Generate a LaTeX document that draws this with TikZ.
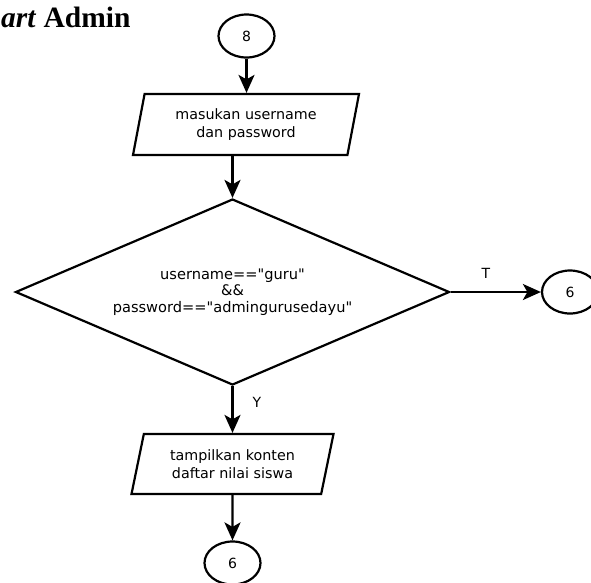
\documentclass[tikz,border=0pt]{standalone}
\usepackage{fontspec}
\newfontfamily\labfont{DejaVu Sans}
\newfontfamily\titlefont{Liberation Serif}
\usetikzlibrary{shapes.geometric,arrows.meta}
\begin{document}
\begin{tikzpicture}[x=1pt,y=-1pt,
  line width=2.2pt,
  conn/.style={-{Stealth[length=18pt,width=16pt,inset=4.5pt]}, line width=2.4pt},
  conncirc/.style={ellipse, draw, minimum width=56pt, minimum height=43pt, inner sep=0pt, font=\labfont\fontsize{14}{15}\selectfont},
  iobox/.style={trapezium, draw, trapezium stretches body, align=center, inner sep=0pt, font=\labfont\fontsize{14.3}{18}\selectfont},
  decision/.style={diamond, draw, aspect=2.33, inner sep=0pt, align=center, font=\labfont\fontsize{14.6}{16.5}\selectfont},
  edgelabel/.style={font=\labfont\fontsize{14}{16}\selectfont, inner sep=0pt}]
\useasboundingbox (0,0) rectangle (591,582);
\clip (0,0) rectangle (591,582);
\node[anchor=base west, inner sep=0pt, font=\titlefont\bfseries\fontsize{29.5}{32}\selectfont] (title) at (0,27) {\textit{art} Admin};
\node[conncirc] (c8) at (246.5,36) {8};
\node[iobox, trapezium left angle=70, trapezium right angle=110, minimum width=226pt, minimum height=61pt] (p1) at (246,124.5) {masukan username\\dan password};
\node[decision, minimum width=434pt, minimum height=186pt] (d) at (232.5,292) {username=="guru"\\\&\&\\password=="admingurusedayu"};
\node[conncirc] (c6r) at (570,292) {6};
\node[iobox, trapezium left angle=67, trapezium right angle=113, minimum width=202pt, minimum height=60pt] (p2) at (232.5,464) {tampilkan konten\\daftar nilai siswa};
\node[conncirc] (c6b) at (232.5,563) {6};
\node[edgelabel] (lT) at (486,273) {T};
\node[edgelabel] (lY) at (257,402) {Y};
\draw[conn] (c8.south) -- (c8.south |- p1.north);
\draw[conn] (d.north |- p1.south) -- (d.north);
\draw[conn] (d.east) -- (c6r.west);
\draw[conn] (d.south) -- (d.south |- p2.north);
\draw[conn] (p2.south) -- (c6b.north);
\end{tikzpicture}
\end{document}
